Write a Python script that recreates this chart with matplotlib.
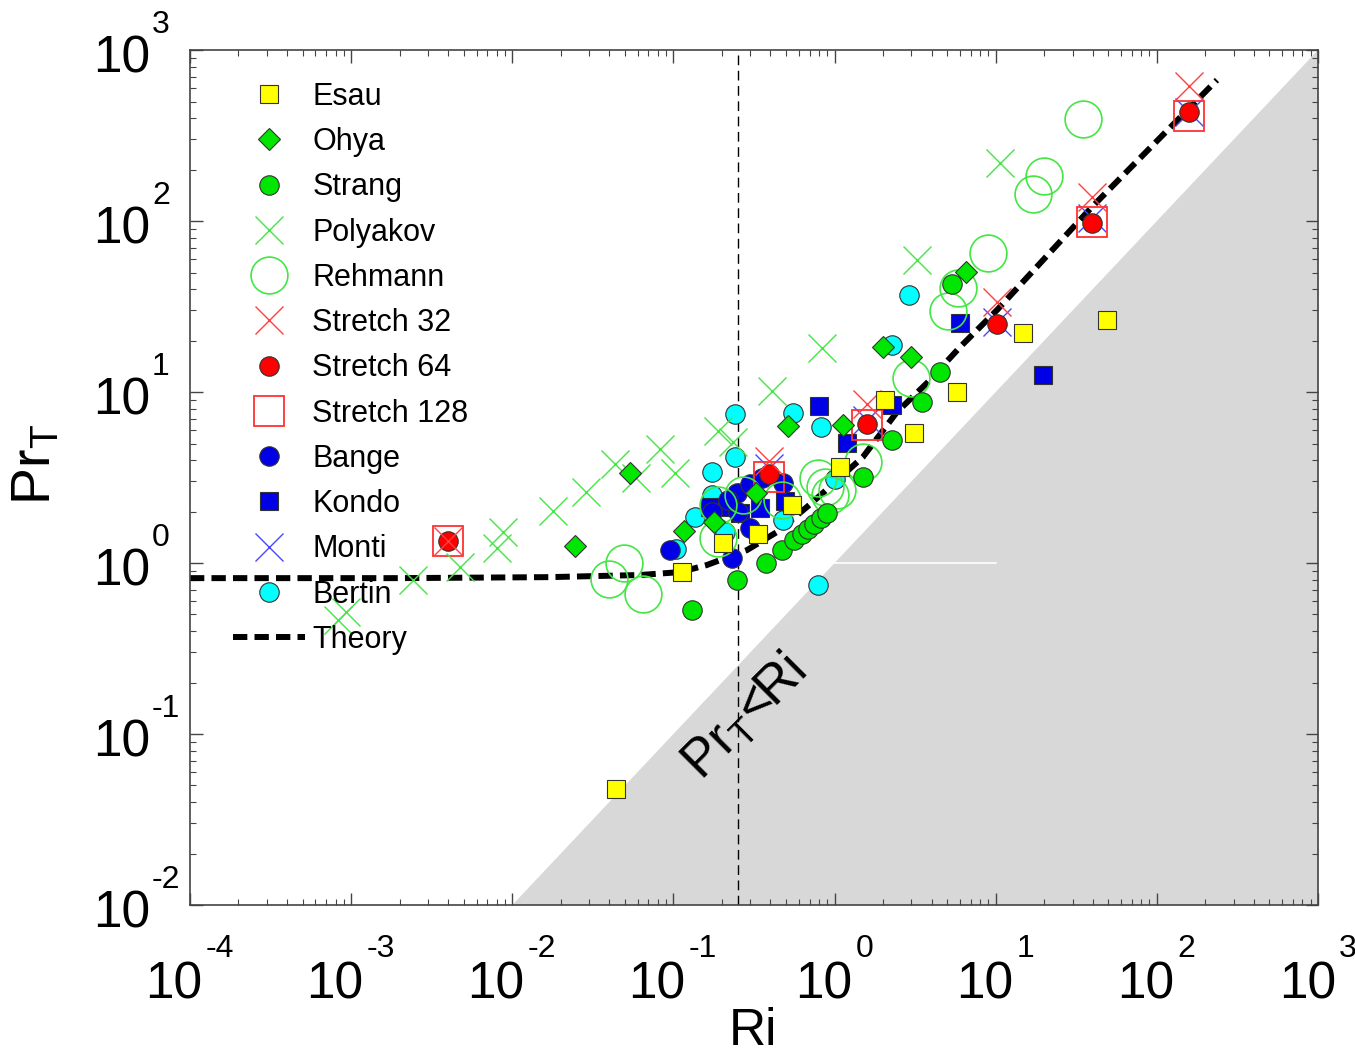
import numpy as np
import matplotlib
matplotlib.use("Agg")
import matplotlib.pyplot as plt
from matplotlib.transforms import offset_copy

plt.rcParams["font.family"] = ["Liberation Sans", "DejaVu Sans"]
plt.rcParams["mathtext.fontset"] = "custom"
plt.rcParams["mathtext.rm"] = "Liberation Sans"
plt.rcParams["mathtext.it"] = "Liberation Sans:italic"
plt.rcParams["mathtext.bf"] = "Liberation Sans:bold"
plt.rcParams["axes.unicode_minus"] = False

# --- data (Ri, Pr_T) ---
esau_ri = [0.0441, 0.113, 0.203, 0.335, 0.545, 1.08, 2.06, 3.11, 5.75, 14.8, 49.1]
esau_pr = [0.0476, 0.885, 1.31, 1.48, 2.18, 3.64, 8.98, 5.75, 10.0, 22.1, 26.4]

ohya_ri = [0.0245, 0.0538, 0.116, 0.179, 0.326, 0.514, 1.13, 2.00, 2.98, 6.55]
ohya_pr = [1.26, 3.36, 1.54, 1.74, 2.57, 6.32, 6.41, 18.3, 16.0, 50.3]

strang_ri = [0.130, 0.248, 0.376, 0.472, 0.560, 0.628, 0.684, 0.746, 0.824, 0.897,
             1.50, 2.27, 3.49, 4.52, 5.36]
strang_pr = [0.531, 0.796, 1.00, 1.19, 1.36, 1.48, 1.58, 1.69, 1.83, 1.96,
             3.18, 5.24, 8.74, 13.1, 42.8]

polyakov_ri = [0.000828, 0.000929, 0.00242, 0.00474, 0.00804, 0.00877, 0.0179, 0.0287,
               0.0435, 0.0586, 0.0826, 0.102, 0.189, 0.234, 0.409, 0.835, 3.25, 10.6]
polyakov_pr = [0.465, 0.517, 0.796, 0.948, 1.22, 1.52, 2.01, 2.60,
               3.79, 3.14, 4.64, 3.36, 5.92, 5.10, 10.1, 18.1, 59.1, 218]

rehmann_ri = [0.0398, 0.0493, 0.0647, 0.189, 0.189, 0.270, 0.472, 0.789, 0.873, 1.04,
              0.938, 1.50, 2.98, 5.06, 5.84, 8.96, 17.1, 19.9, 34.8]
rehmann_pr = [0.805, 1.00, 0.659, 2.18, 1.40, 2.50, 2.34, 3.14, 2.78, 2.67,
              2.50, 3.90, 12.1, 29.8, 40.6, 65.0, 144, 183, 395]

s32_ri = [0.00399, 0.392, 1.59, 10.2, 39.6, 158]
s32_pr = [1.35, 3.95, 8.51, 33.6, 138, 616]

s64_ri = [0.00399, 0.392, 1.59, 10.2, 39.6, 158]
s64_pr = [1.35, 3.31, 6.50, 25.0, 97.3, 434]

s128_ri = [0.00399, 0.392, 1.59, 39.6, 158]
s128_pr = [1.35, 3.18, 6.41, 98.6, 411]

bange_ri = [0.0953, 0.231, 0.298, 0.174, 0.248, 0.298, 0.355, 0.479, 0.252, 0.218]
bange_pr = [1.19, 1.07, 1.60, 1.99, 2.57, 2.90, 3.14, 2.94, 1.99, 2.34]

kondo_ri = [0.169, 0.215, 0.259, 0.344, 0.493, 0.802, 1.19, 2.27, 6.00, 19.7]
kondo_pr = [2.13, 2.13, 1.96, 2.10, 2.31, 8.28, 5.03, 8.39, 25.3, 12.6]

monti_ri = [0.392, 1.59, 10.2, 39.6, 158]
monti_pr = [3.59, 6.86, 25.7, 104, 434]

bertin_ri = [0.104, 0.136, 0.174, 0.174, 0.209, 0.241, 0.241, 0.479, 0.552, 0.824,
             1.01, 0.789, 2.27, 2.90]
bertin_pr = [1.21, 1.86, 2.50, 3.41, 1.52, 4.17, 7.43, 1.78, 7.54, 6.24,
             3.10, 0.743, 18.8, 36.9]

theory_ri = [1e-4, 0.00201, 0.0171, 0.0621, 0.110, 0.161, 0.286, 0.440, 0.675,
             0.847, 1.50, 2.44, 3.75, 6.00, 10.2, 39.6, 236]
theory_pr = [0.816, 0.816, 0.827, 0.851, 0.885, 0.973, 1.19, 1.52, 2.13,
             2.57, 4.17, 7.64, 11.3, 18.3, 30.2, 121, 668]

ri_crit = 0.25
x_decades = range(-4, 4)
y_decades = range(-2, 4)

fig = plt.figure(figsize=(13.55, 10.58), dpi=100)
ax = fig.add_axes([0.1402, 0.1446, 0.8325, 0.8081])
ax.set_xscale("log")
ax.set_yscale("log")
ax.set_xlim(1e-4, 1e3)
ax.set_ylim(1e-2, 1e3)

# region Pr_T < Ri
ax.fill_between([1e-4, 1e3], [1e-4, 1e3], 1e-2, color="#d8d8d8", lw=0, zorder=0)
ax.plot([1, 10], [1, 1], color="white", lw=1.2, zorder=0.5)
ax.axvline(ri_crit, color="k", lw=1.0, ls=(0, (7, 4)), zorder=1)
ax.text(0.278, 0.124, r"Pr$_\mathrm{T}$<Ri", rotation=45, rotation_mode="anchor",
        ha="center", va="center", fontsize=38, zorder=1)

edge = "#333333"
green = "#00e600"
lgreen = "#44e644"
blue = "#0000e6"

h = {}
h["Theory"], = ax.plot(theory_ri, theory_pr, color="k", lw=4.3, ls=(0, (2.4, 1.2)), zorder=2)
h["Bertin"], = ax.plot(bertin_ri, bertin_pr, "o", ms=14, mfc="#00ffff", mec=edge, mew=0.8, zorder=3)
h["Monti"], = ax.plot(monti_ri, monti_pr, "x", ms=19.5, color="#4848ff", mew=1.0, zorder=3)
h["Kondo"], = ax.plot(kondo_ri, kondo_pr, "s", ms=12.5, mfc=blue, mec=edge, mew=0.8, zorder=3)
h["Bange"], = ax.plot(bange_ri, bange_pr, "o", ms=14, mfc=blue, mec=edge, mew=0.8, zorder=3)
h["Stretch 128"], = ax.plot(s128_ri, s128_pr, "s", ms=21.5, mfc="none", mec="#ff3030", mew=1.3, zorder=3)
h["Stretch 64"], = ax.plot(s64_ri, s64_pr, "o", ms=14, mfc="#ff0000", mec=edge, mew=0.8, zorder=3)
h["Stretch 32"], = ax.plot(s32_ri, s32_pr, "x", ms=19.5, color="#ff4040", mew=1.0, zorder=3)
h["Rehmann"], = ax.plot(rehmann_ri, rehmann_pr, "o", ms=26.5, mfc="none", mec=lgreen, mew=1.2, zorder=3)
h["Polyakov"], = ax.plot(polyakov_ri, polyakov_pr, "x", ms=20, color=lgreen, mew=1.0, zorder=3)
h["Strang"], = ax.plot(strang_ri, strang_pr, "o", ms=14, mfc=green, mec=edge, mew=0.8, zorder=3)
h["Ohya"], = ax.plot(ohya_ri, ohya_pr, "D", ms=11.5, mfc=green, mec=edge, mew=0.8, zorder=3)
h["Esau"], = ax.plot(esau_ri, esau_pr, "s", ms=12.5, mfc="#ffff00", mec=edge, mew=0.8, zorder=3)

order = ["Esau", "Ohya", "Strang", "Polyakov", "Rehmann", "Stretch 32", "Stretch 64",
         "Stretch 128", "Bange", "Kondo", "Monti", "Bertin", "Theory"]
ax.legend([h[k] for k in order], order, loc="upper left", bbox_to_anchor=(0.038, 0.963),
          frameon=False, fontsize=22, borderpad=0, borderaxespad=0, numpoints=1,
          handlelength=2.35, handletextpad=0.25, labelspacing=0.50)

for s in ax.spines.values():
    s.set_color("#444444")
    s.set_linewidth(1.2)
ax.tick_params(which="both", direction="in", top=True, right=True, colors="#444444",
               labelbottom=False, labelleft=False)
ax.tick_params(which="major", length=9, width=1.0)
ax.tick_params(which="minor", length=4.5, width=0.8)

# tick labels drawn as "10" plus a raised exponent
for e in x_decades:
    ew = 18.5 if e >= 0 else 29.5
    dx = (54 - ew) / 2
    t = offset_copy(ax.get_xaxis_transform(), fig=fig, x=dx, y=-93, units="dots")
    ax.text(10.0 ** e, 0, "10", transform=t, ha="right", va="baseline",
            fontsize=37, clip_on=False)
    t = offset_copy(ax.get_xaxis_transform(), fig=fig, x=dx + 3, y=-52, units="dots")
    ax.text(10.0 ** e, 0, str(e), transform=t, ha="left", va="baseline",
            fontsize=23, clip_on=False)
for e in y_decades:
    t = offset_copy(ax.get_yaxis_transform(), fig=fig, x=-40, y=-22, units="dots")
    ax.text(0, 10.0 ** e, "10", transform=t, ha="right", va="baseline",
            fontsize=37, clip_on=False)
    t = offset_copy(ax.get_yaxis_transform(), fig=fig, x=-38, y=17, units="dots")
    ax.text(0, 10.0 ** e, str(e), transform=t, ha="left", va="baseline",
            fontsize=23, clip_on=False)

fig.text(753 / 1355, 0.002, "Ri", ha="center", va="bottom", fontsize=37)
fig.text(50 / 1355, 1 - 465 / 1058, r"Pr$_\mathrm{T}$", ha="center", va="baseline",
         rotation=90, rotation_mode="anchor", fontsize=40)

fig.savefig("out.png", dpi=100)
